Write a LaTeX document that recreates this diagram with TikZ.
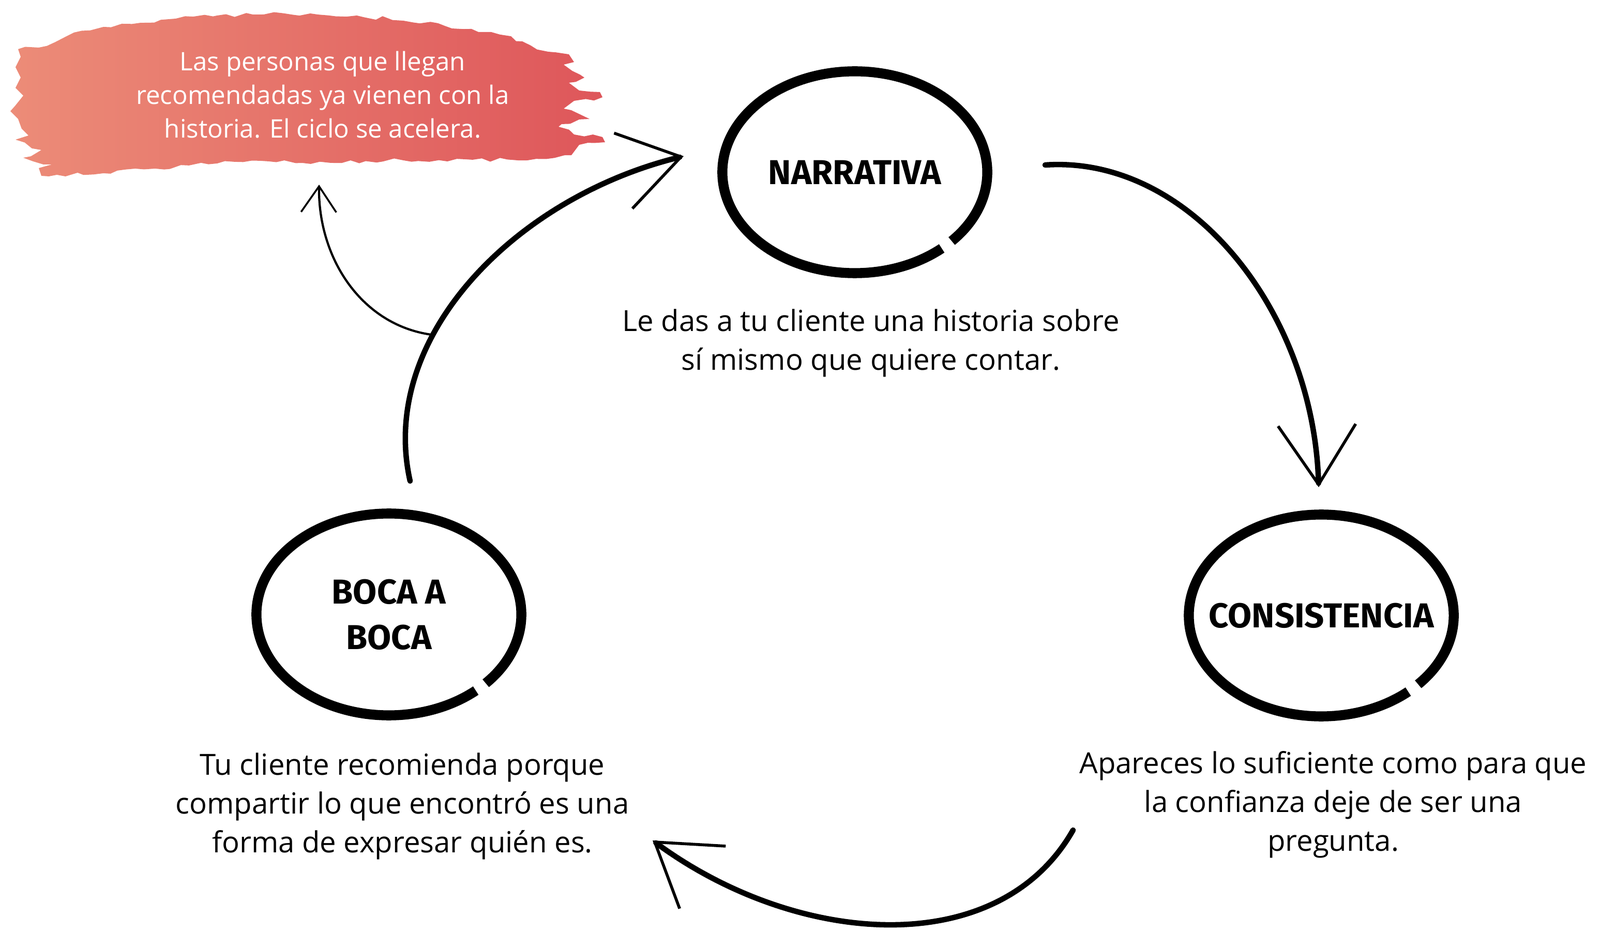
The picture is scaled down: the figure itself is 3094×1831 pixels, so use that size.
\documentclass[tikz,border=0pt]{standalone}
\usepackage{fontspec}
\setmainfont{Open Sans}
\newfontfamily\titlefont{Fira Sans}
\newfontfamily\handfont{Open Sans}
\usetikzlibrary{positioning, arrows.meta, shapes.geometric, decorations.pathmorphing}

\definecolor{brushL}{RGB}{236,140,120}
\definecolor{brushR}{RGB}{222,86,90}

\tikzset{
    stage/.style={ellipse, minimum width=5.12cm, minimum height=3.9cm, inner sep=0pt,
        font=\titlefont\bfseries\fontsize{19}{25}\selectfont, align=center},
    ring/.style={line width=5.5pt, line cap=butt},
    note/.style={font=\handfont\fontsize{16}{21.3}\selectfont, align=center},
    boxtext/.style={font=\handfont\fontsize{14}{18.5}\selectfont, align=center, text=white},
    flow/.style={line width=3pt, line cap=round,
        -{Straight Barb[length=1.15cm, width=1.5cm, line width=1.6pt]}},
    aside/.style={line width=1.2pt, line cap=round,
        -{Straight Barb[length=0.5cm, width=0.68cm, line width=1pt]}}
}

\begin{document}
\begin{tikzpicture}[x=0.01cm, y=-0.01cm]
    \useasboundingbox (0,0) rectangle (3094,1831);

    % brush patch
    \shade[left color=brushL, right color=brushR,
        decorate, decoration={random steps, segment length=5pt, amplitude=1.2pt}]
        (35,95) -- (75,92) -- (125,72) -- (200,52) -- (280,44) -- (340,36) -- (420,30)
        -- (510,28) -- (600,26) -- (690,30) -- (780,40) -- (860,50) -- (950,62)
        -- (1010,80) -- (1060,100) -- (1100,105) -- (1110,120) -- (1090,125)
        -- (1130,150) -- (1100,160) -- (1120,175) -- (1160,178) -- (1165,188)
        -- (1110,195) -- (1090,210) -- (1140,230) -- (1080,245) -- (1110,260)
        -- (1165,265) -- (1170,275) -- (1120,280) -- (1105,300) -- (1020,310)
        -- (900,308) -- (780,310) -- (640,315) -- (520,312) -- (420,316) -- (300,326)
        -- (200,335) -- (110,338) -- (80,340) -- (75,325) -- (100,318) -- (45,305)
        -- (80,290) -- (30,270) -- (55,262) -- (35,230) -- (20,215) -- (45,185)
        -- (30,170) -- (40,150) -- (30,130) -- (40,110) -- cycle;
    \node[boxtext] (patch) at (624,183) {Las personas que llegan\\recomendadas ya vienen con la\\historia. El ciclo se acelera.};

    % stages
    \node[stage] (narr) at (1653,333) {NARRATIVA};
    \node[stage] (cons) at (2555,1190) {CONSISTENCIA};
    \node[stage] (boca) at (752,1188) {BOCA A\\BOCA};

    \foreach \s in {narr,cons,boca}
        \draw[ring] ([shift={(-43:2.56cm and 1.95cm)}]\s.center)
            arc[start angle=-43, end angle=311, x radius=2.56cm, y radius=1.95cm];

    \node[note] (narr-txt) at (1684,663) {Le das a tu cliente una historia sobre\\sí mismo que quiere contar.};
    \node[note] (cons-txt) at (2578,1556) {Apareces lo suficiente como para que\\la confianza deje de ser una\\pregunta.};
    \node[note] (boca-txt) at (778,1559) {Tu cliente recomienda porque\\compartir lo que encontró es una\\forma de expresar quién es.};

    % cycle arrows
    \coordinate (narr-out) at (2021,319);
    \coordinate (cons-in) at (2550,942);
    \coordinate (cons-out) at (2075,1605);
    \coordinate (boca-in) at (1262,1625);
    \coordinate (boca-out) at (793,930);
    \coordinate (narr-in) at (1322,302);
    \coordinate (patch-in) at (617,357);

    \draw[flow] (narr-out) .. controls (2300,300) and (2540,600) .. (cons-in);
    \draw[flow] (cons-out) .. controls (1930,1860) and (1540,1830) .. (boca-in);
    \draw[flow] (boca-out) .. controls (730,650) and (1000,380) .. coordinate[pos=0.35] (split) (narr-in);
    \draw[aside] (split) .. controls (700,630) and (615,500) .. (patch-in);

\end{tikzpicture}
\end{document}
